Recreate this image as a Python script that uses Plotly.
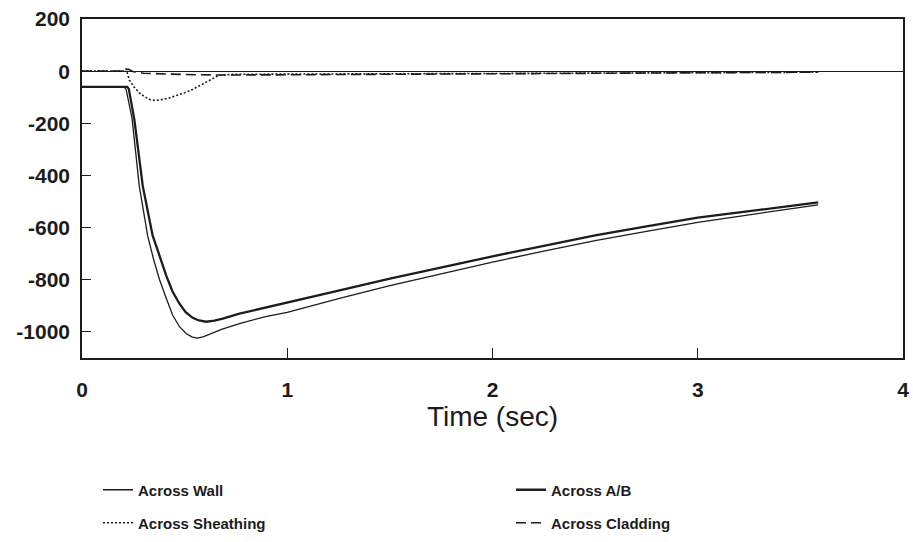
import plotly.graph_objects as go

# ---- data ----
t_ab = [0, 0.22, 0.228, 0.24, 0.255, 0.296, 0.344, 0.38, 0.41, 0.44, 0.474, 0.505, 0.539, 0.57,
        0.605, 0.645, 0.686, 0.767, 0.9, 1.0, 1.25, 1.5, 1.75, 2.0, 2.25, 2.5, 2.75, 3.0, 3.3, 3.587]
v_ab = [-60, -60, -68, -115, -186, -440, -630, -713, -783, -843, -891, -924, -946, -956,
        -961, -957, -949, -930, -906, -890, -842, -796, -752, -710, -670, -630, -595, -562, -532, -503]

t_wall = [0, 0.205, 0.215, 0.228, 0.244, 0.279, 0.32, 0.35, 0.377, 0.41, 0.442, 0.475, 0.507, 0.535,
          0.56, 0.59, 0.621, 0.68, 0.767, 0.9, 1.0, 1.25, 1.5, 1.75, 2.0, 2.25, 2.5, 2.75, 3.0, 3.3, 3.587]
v_wall = [-60, -60, -70, -115, -182, -440, -632, -725, -798, -870, -936, -980, -1006, -1019,
          -1024, -1019, -1008, -990, -968, -940, -925, -872, -822, -776, -732, -690, -650, -614, -580, -545, -513]

t_sheath = [0, 0.2, 0.215, 0.231, 0.255, 0.279, 0.305, 0.328, 0.355, 0.377, 0.42, 0.458, 0.5, 0.539,
            0.58, 0.621, 0.669, 0.75, 1.0, 1.5, 2.0, 2.5, 3.0, 3.587]
v_sheath = [0, 0, 8, -35, -62, -83, -98, -108, -112, -111, -104, -95, -83, -70,
            -52, -33, -15, -12, -12, -10, -9, -7, -5, -4]

t_clad = [0, 0.2, 0.225, 0.25, 0.3, 0.4, 0.5, 0.7, 1.0, 1.5, 2.0, 2.5, 3.0, 3.587]
v_clad = [0, 0, 8, -2, -8, -11, -13, -15, -14, -12, -10, -8, -6, -4]

x_ticks = [0, 1, 2, 3, 4]
y_ticks = [200, 0, -200, -400, -600, -800, -1000]

INK = "#1c1c1c"
FONT = "Liberation Sans"

fig = go.Figure()
fig.add_trace(go.Scatter(x=t_wall, y=v_wall, mode="lines", name="Across Wall",
                         line=dict(color=INK, width=1.3), legend="legend"))
fig.add_trace(go.Scatter(x=t_ab, y=v_ab, mode="lines", name="Across A/B",
                         line=dict(color=INK, width=2.3), legend="legend2"))
fig.add_trace(go.Scatter(x=t_sheath, y=v_sheath, mode="lines", name="Across Sheathing",
                         line=dict(color=INK, width=1.6, dash="2px,2px"), legend="legend3"))
fig.add_trace(go.Scatter(x=t_clad, y=v_clad, mode="lines", name="Across Cladding",
                         line=dict(color=INK, width=1.6, dash="10px,5px"), legend="legend4"))

legend_common = dict(orientation="h", xanchor="left", yanchor="middle",
                     xref="container", yref="container",
                     font=dict(family=FONT, size=15, color=INK, weight="bold"),
                     bgcolor="rgba(0,0,0,0)", itemwidth=30)

COL1, COL2 = 0.1073, 0.5597
ROW1, ROW2 = 1 - 490 / 542, 1 - 523 / 542

fig.update_layout(
    width=913, height=542,
    margin=dict(l=82, r=10, t=19, b=183.5),
    paper_bgcolor="white", plot_bgcolor="white",
    showlegend=True,
    legend=dict(x=COL1, y=ROW1, **legend_common),
    legend2=dict(x=COL2, y=ROW1, **legend_common),
    legend3=dict(x=COL1, y=ROW2, **legend_common),
    legend4=dict(x=COL2, y=ROW2, **legend_common),
    xaxis=dict(range=[0, 4], tickvals=x_ticks, ticktext=[str(v) for v in x_ticks],
               ticks="inside", ticklen=10, tickwidth=1.3, tickcolor=INK,
               showline=True, linecolor=INK, linewidth=1.5, mirror=True,
               showgrid=False, zeroline=False, ticklabelstandoff=12,
               automargin=False,
               tickfont=dict(family=FONT, size=21, color=INK, weight="bold"),
               title=dict(text="Time (sec)", standoff=0,
                          font=dict(family=FONT, size=28, color=INK))),
    yaxis=dict(range=[-1100, 200], tickvals=y_ticks, ticktext=[str(v) for v in y_ticks],
               ticks="inside", ticklen=9, tickwidth=1.3, tickcolor=INK,
               showline=True, linecolor=INK, linewidth=1.5, mirror=True,
               showgrid=False, zeroline=True, zerolinecolor=INK, zerolinewidth=1.4,
               ticklabelstandoff=6, automargin=False,
               tickfont=dict(family=FONT, size=21, color=INK, weight="bold")),
)

fig.write_html("out.html")
